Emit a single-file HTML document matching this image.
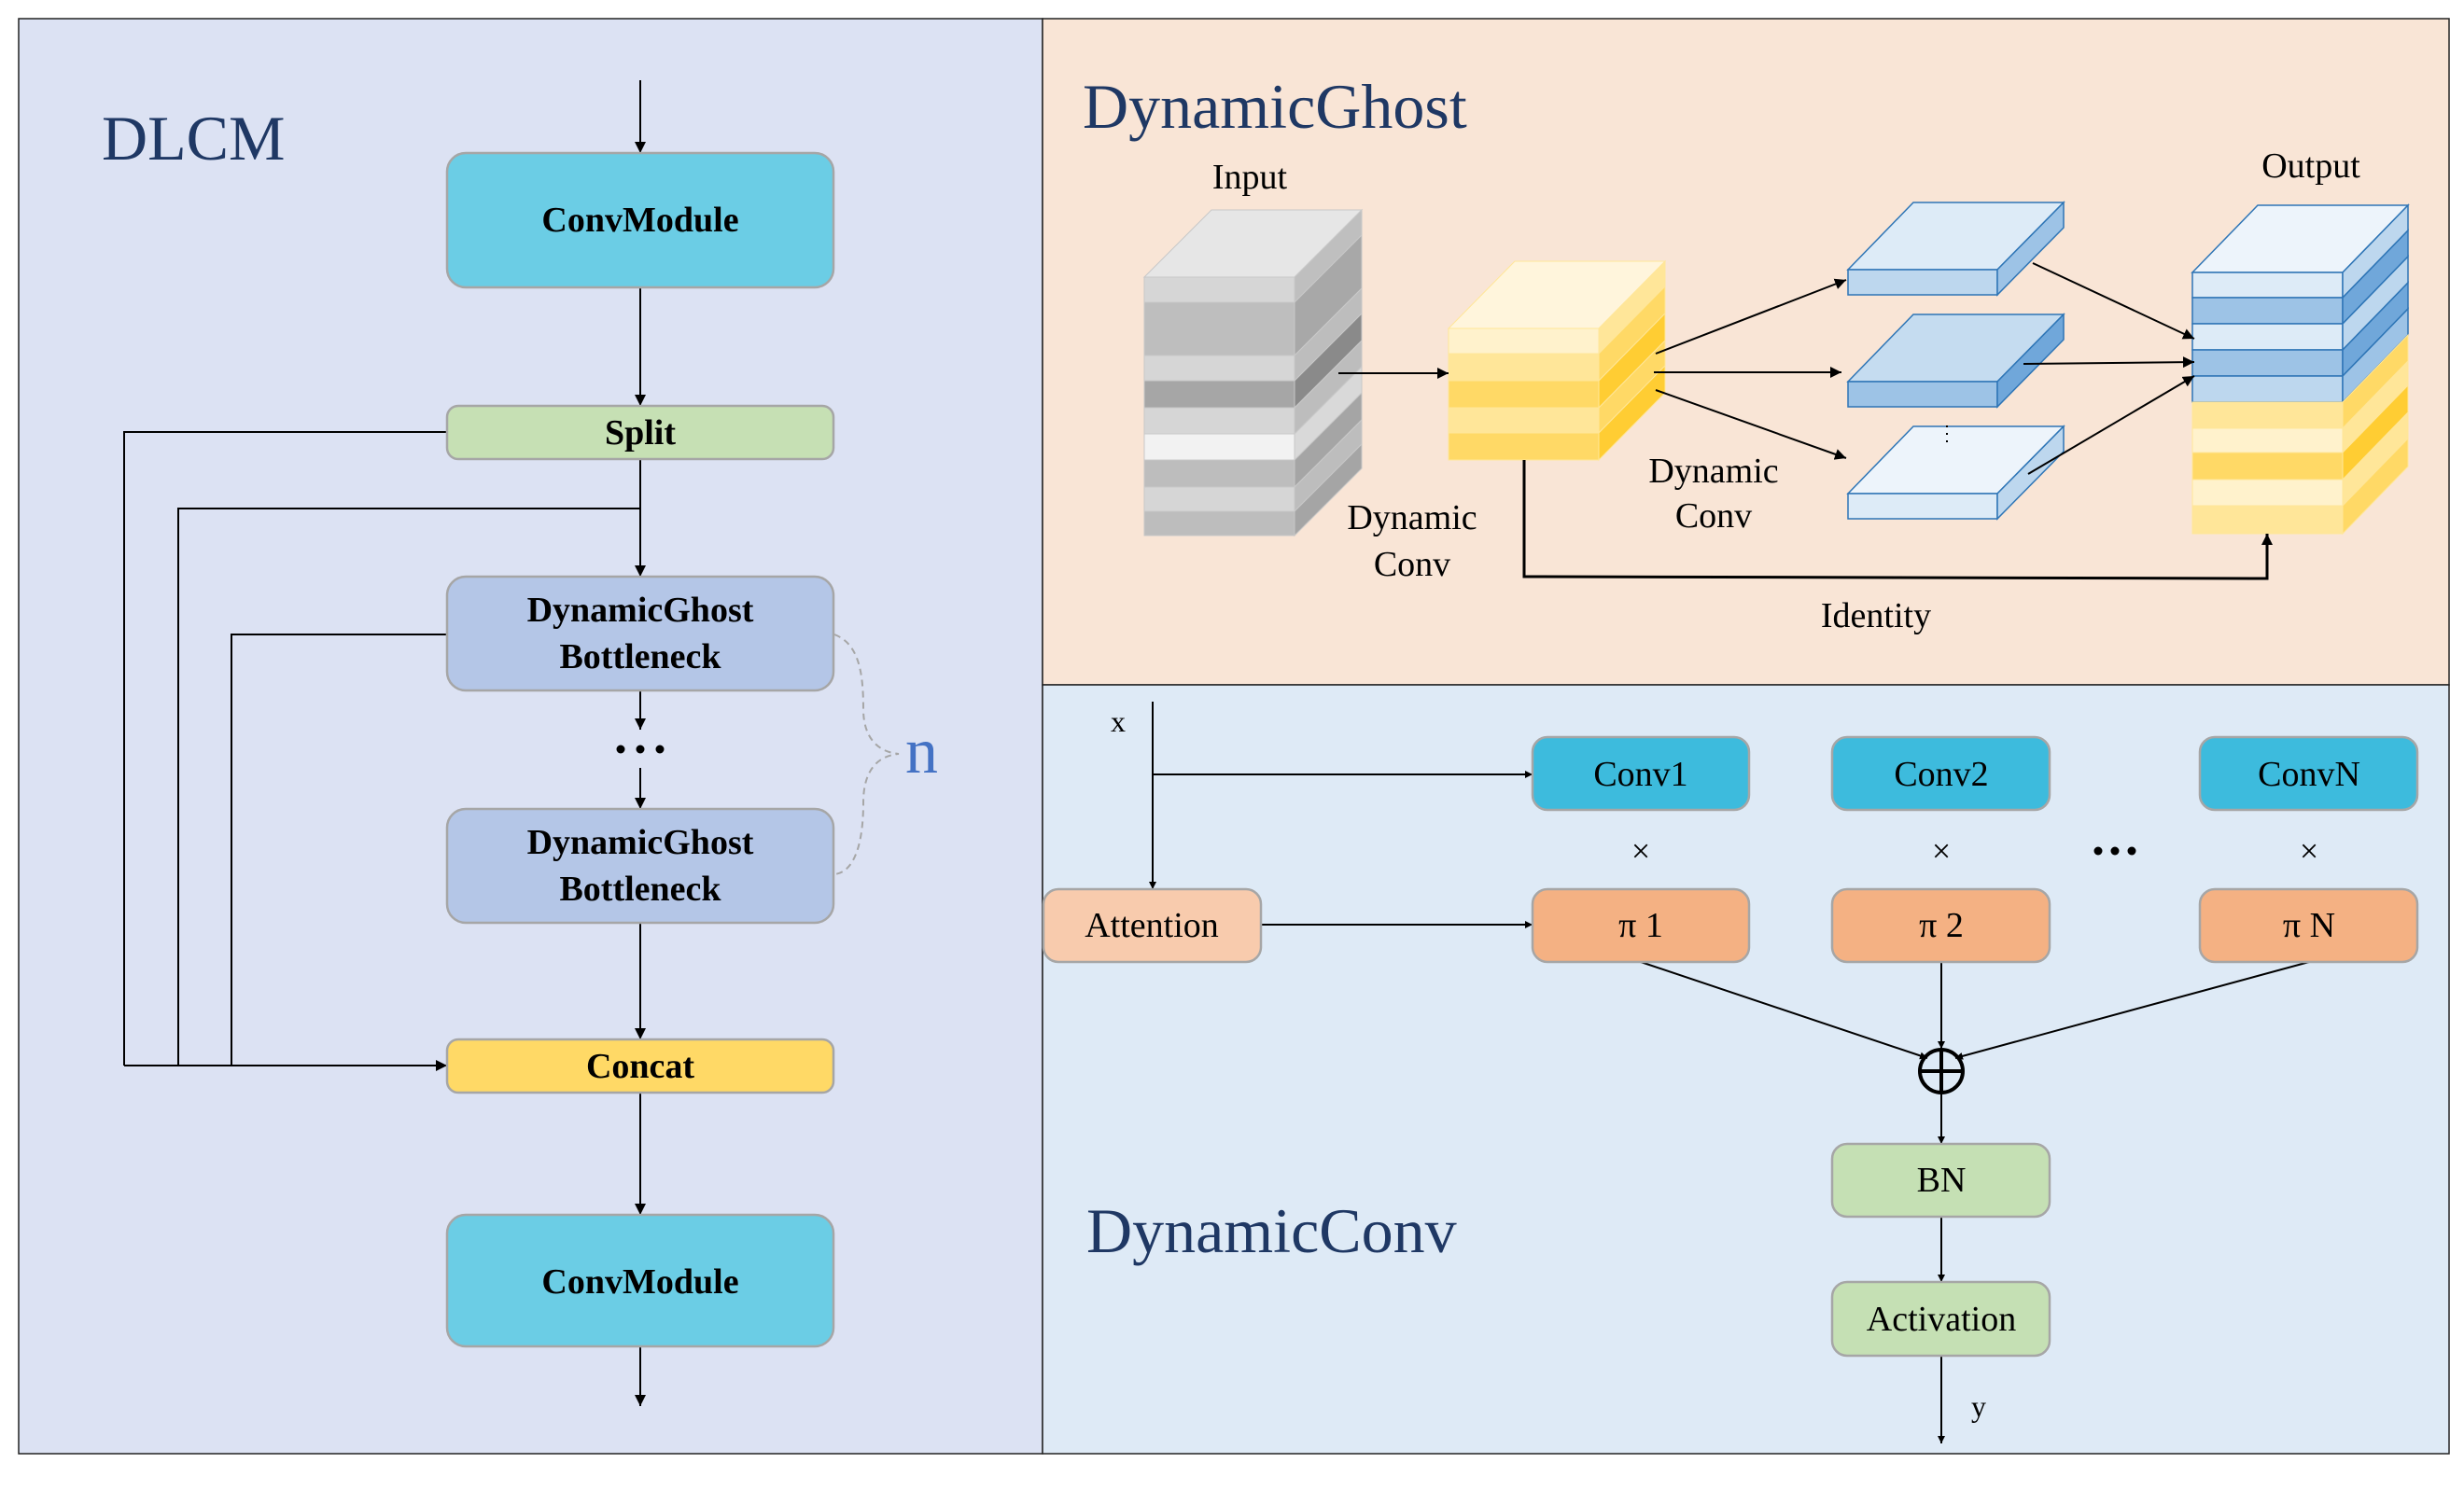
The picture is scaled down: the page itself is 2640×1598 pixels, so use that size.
<!DOCTYPE html>
<html><head><meta charset="utf-8"><style>html,body{margin:0;padding:0;background:#fff}svg{display:block}text{font-family:"Liberation Serif",serif}</style></head><body>
<svg width="2640" height="1598" viewBox="0 0 2640 1598" xmlns="http://www.w3.org/2000/svg">
<defs>
<marker id="a" viewBox="0 0 10 10" refX="10" refY="5" markerWidth="8" markerHeight="8" markerUnits="userSpaceOnUse" orient="auto"><path d="M0,0L10,5L0,10z" fill="#000"/></marker>
<marker id="b" viewBox="0 0 10 10" refX="10" refY="5" markerWidth="12" markerHeight="12" markerUnits="userSpaceOnUse" orient="auto"><path d="M0,0L10,5L0,10z" fill="#000"/></marker>
</defs>
<rect x="0" y="0" width="2640" height="1598" fill="#fff"/>
<rect x="20" y="20" width="1097" height="1538" fill="#DCE2F3" stroke="#222" stroke-width="1.5"/>
<rect x="1117" y="20" width="1507" height="714" fill="#F9E5D6" stroke="#222" stroke-width="1.5"/>
<rect x="1117" y="734" width="1507" height="824" fill="#DEEAF6" stroke="#222" stroke-width="1.5"/>

<!-- LEFT PANEL -->
<text x="109" y="171" font-size="68" fill="#1F3864">DLCM</text>
<g stroke="#000" stroke-width="2" fill="none">
<line x1="686" y1="86" x2="686" y2="164" marker-end="url(#b)"/>
<line x1="686" y1="308" x2="686" y2="435" marker-end="url(#b)"/>
<line x1="686" y1="492" x2="686" y2="618" marker-end="url(#b)"/>
<line x1="686" y1="740" x2="686" y2="782" marker-end="url(#b)"/>
<line x1="686" y1="823" x2="686" y2="867" marker-end="url(#b)"/>
<line x1="686" y1="989" x2="686" y2="1114" marker-end="url(#b)"/>
<line x1="686" y1="1171" x2="686" y2="1302" marker-end="url(#b)"/>
<line x1="686" y1="1443" x2="686" y2="1507" marker-end="url(#b)"/>
<polyline points="479,463 133,463 133,1142"/>
<polyline points="686,545 191,545 191,1142"/>
<polyline points="479,680 248,680 248,1142"/>
<line x1="133" y1="1142" x2="479" y2="1142" marker-end="url(#b)"/>
</g>
<g stroke="#A6A6A6" stroke-width="2.5">
<rect x="479" y="164" width="414" height="144" rx="20" fill="#6BCDE5"/>
<rect x="479" y="435" width="414" height="57" rx="12" fill="#C6E0B4"/>
<rect x="479" y="618" width="414" height="122" rx="20" fill="#B4C6E7"/>
<rect x="479" y="867" width="414" height="122" rx="20" fill="#B4C6E7"/>
<rect x="479" y="1114" width="414" height="57" rx="12" fill="#FFD966"/>
<rect x="479" y="1302" width="414" height="141" rx="20" fill="#6BCDE5"/>
</g>
<g font-weight="bold" font-size="38" text-anchor="middle" fill="#000">
<text x="686" y="248">ConvModule</text>
<text x="686" y="476">Split</text>
<text x="686" y="666">DynamicGhost</text>
<text x="686" y="716">Bottleneck</text>
<text x="686" y="915">DynamicGhost</text>
<text x="686" y="965">Bottleneck</text>
<text x="686" y="1155">Concat</text>
<text x="686" y="1386">ConvModule</text>
</g>
<circle cx="665" cy="803" r="4.5"/><circle cx="686" cy="803" r="4.5"/><circle cx="707" cy="803" r="4.5"/>
<path d="M894,680 C920,690 925,720 925,760 C925,790 940,806 963,808 C940,810 925,826 925,860 C925,905 915,935 894,937" fill="none" stroke="#A6A6A6" stroke-width="2" stroke-dasharray="7,5"/>
<text x="970" y="828" font-size="70" fill="#4472C4">n</text>

<!-- TOP RIGHT: DynamicGhost -->
<text x="1160" y="137" font-size="68" fill="#1F3864">DynamicGhost</text>
<g font-size="38" text-anchor="middle" fill="#000">
<text x="1339" y="202">Input</text>
<text x="2476" y="190">Output</text>
<text x="1513" y="567">Dynamic</text>
<text x="1513" y="617">Conv</text>
<text x="1836" y="517">Dynamic</text>
<text x="1836" y="565">Conv</text>
<text x="2010" y="672">Identity</text>
</g>
<!-- gray cube -->
<g stroke="#c8c8c8" stroke-width="1">
<polygon points="1226,297 1298,225 1459,225 1387,297" fill="#E6E6E6"/>
<rect x="1226" y="297" width="161" height="27" fill="#D6D6D6"/><polygon points="1387,297 1459,225 1459,252 1387,324" fill="#BFBFBF"/>
<rect x="1226" y="324" width="161" height="57" fill="#BEBEBE"/><polygon points="1387,324 1459,252 1459,309 1387,381" fill="#A8A8A8"/>
<rect x="1226" y="381" width="161" height="27" fill="#D6D6D6"/><polygon points="1387,381 1459,309 1459,336 1387,408" fill="#BDBDBD"/>
<rect x="1226" y="408" width="161" height="29" fill="#A6A6A6"/><polygon points="1387,408 1459,336 1459,365 1387,437" fill="#8A8A8A"/>
<rect x="1226" y="437" width="161" height="28" fill="#D6D6D6"/><polygon points="1387,437 1459,365 1459,393 1387,465" fill="#BDBDBD"/>
<rect x="1226" y="465" width="161" height="28" fill="#F2F2F2"/><polygon points="1387,465 1459,393 1459,421 1387,493" fill="#D9D9D9"/>
<rect x="1226" y="493" width="161" height="29" fill="#BDBDBD"/><polygon points="1387,493 1459,421 1459,450 1387,522" fill="#A5A5A5"/>
<rect x="1226" y="522" width="161" height="26" fill="#D6D6D6"/><polygon points="1387,522 1459,450 1459,476 1387,548" fill="#BDBDBD"/>
<rect x="1226" y="548" width="161" height="26" fill="#BDBDBD"/><polygon points="1387,548 1459,476 1459,502 1387,574" fill="#A5A5A5"/>
</g>
<!-- yellow cube -->
<g stroke="#FFE699" stroke-width="1" transform="translate(-5,0)">
<polygon points="1557,352 1628,280 1789,280 1718,352" fill="#FFF5DC"/>
<rect x="1557" y="352" width="161" height="27" fill="#FFF2CC"/><polygon points="1718,352 1789,280 1789,307 1718,379" fill="#FFE699"/>
<rect x="1557" y="379" width="161" height="29" fill="#FFE699"/><polygon points="1718,379 1789,307 1789,336 1718,408" fill="#FFD966"/>
<rect x="1557" y="408" width="161" height="29" fill="#FFD966"/><polygon points="1718,408 1789,336 1789,365 1718,437" fill="#FFCD33"/>
<rect x="1557" y="437" width="161" height="27" fill="#FFE699"/><polygon points="1718,437 1789,365 1789,392 1718,464" fill="#FFD966"/>
<rect x="1557" y="464" width="161" height="29" fill="#FFD966"/><polygon points="1718,464 1789,392 1789,421 1718,493" fill="#FFCD33"/>
</g>
<!-- slabs -->
<g stroke="#2E75B6" stroke-width="1.5" transform="translate(-7,0)">
<polygon points="1987,289 2057,217 2218,217 2147,289" fill="#DDEBF7"/>
<rect x="1987" y="289" width="160" height="27" fill="#BDD7EE"/>
<polygon points="2147,289 2218,217 2218,244 2147,316" fill="#9DC3E6"/>
<polygon points="1987,409 2057,337 2218,337 2147,409" fill="#C5DCF0"/>
<rect x="1987" y="409" width="160" height="27" fill="#9DC3E6"/>
<polygon points="2147,409 2218,337 2218,364 2147,436" fill="#70A7DA"/>
<polygon points="1987,529 2057,457 2218,457 2147,529" fill="#EDF4FB"/>
<rect x="1987" y="529" width="160" height="27" fill="#DDEBF7"/>
<polygon points="2147,529 2218,457 2218,484 2147,556" fill="#BDD7EE"/>
</g>
<line x1="2086" y1="456" x2="2086" y2="480" stroke="#000" stroke-width="2" stroke-dasharray="2,6"/>
<!-- output cube -->
<g stroke-width="1.5" transform="translate(-8,0)">
<polygon points="2357,292 2427,220 2588,220 2518,292" fill="#EDF4FB" stroke="#2E75B6"/>
<g stroke="#2E75B6">
<rect x="2357" y="292" width="161" height="27" fill="#DDEBF7"/><polygon points="2518,292 2588,220 2588,247 2518,319" fill="#BDD7EE"/>
<rect x="2357" y="319" width="161" height="28" fill="#9DC3E6"/><polygon points="2518,319 2588,247 2588,275 2518,347" fill="#70A7DA"/>
<rect x="2357" y="347" width="161" height="28" fill="#DDEBF7"/><polygon points="2518,347 2588,275 2588,303 2518,375" fill="#BDD7EE"/>
<rect x="2357" y="375" width="161" height="28" fill="#9DC3E6"/><polygon points="2518,375 2588,303 2588,331 2518,403" fill="#70A7DA"/>
<rect x="2357" y="403" width="161" height="28" fill="#BDD7EE"/><polygon points="2518,403 2588,331 2588,359 2518,431" fill="#9DC3E6"/>
</g>
<g stroke="#FFE699" stroke-width="1">
<rect x="2357" y="431" width="161" height="28" fill="#FFE699"/><polygon points="2518,431 2588,359 2588,387 2518,459" fill="#FFD966"/>
<rect x="2357" y="459" width="161" height="26" fill="#FFF2CC"/><polygon points="2518,459 2588,387 2588,413 2518,485" fill="#FFE699"/>
<rect x="2357" y="485" width="161" height="29" fill="#FFD966"/><polygon points="2518,485 2588,413 2588,442 2518,514" fill="#FFCD33"/>
<rect x="2357" y="514" width="161" height="28" fill="#FFF2CC"/><polygon points="2518,514 2588,442 2588,470 2518,542" fill="#FFE699"/>
<rect x="2357" y="542" width="161" height="30" fill="#FFE699"/><polygon points="2518,542 2588,470 2588,500 2518,572" fill="#FFD966"/>
</g>
</g>
<g stroke="#000" stroke-width="2" fill="none">
<line x1="1434" y1="400" x2="1552" y2="400" marker-end="url(#b)"/>
<line x1="1774" y1="379" x2="1978" y2="300" marker-end="url(#b)"/>
<line x1="1772" y1="399" x2="1973" y2="399" marker-end="url(#b)"/>
<line x1="1774" y1="418" x2="1978" y2="491" marker-end="url(#b)"/>
<line x1="2178" y1="282" x2="2351" y2="363" marker-end="url(#b)"/>
<line x1="2168" y1="390" x2="2351" y2="388" marker-end="url(#b)"/>
<line x1="2173" y1="508" x2="2351" y2="403" marker-end="url(#b)"/>
<polyline points="1633,493 1633,618 2429,620 2429,572" stroke-width="3" marker-end="url(#b)"/>
</g>

<!-- BOTTOM RIGHT: DynamicConv -->
<text x="1164" y="1342" font-size="68" fill="#1F3864">DynamicConv</text>
<g stroke="#000" stroke-width="2" fill="none">
<line x1="1235" y1="752" x2="1235" y2="953" marker-end="url(#a)"/>
<line x1="1235" y1="830" x2="1642" y2="830" marker-end="url(#a)"/>
<line x1="1351" y1="991" x2="1642" y2="991" marker-end="url(#a)"/>
<line x1="1758" y1="1031" x2="2065" y2="1134" marker-end="url(#a)"/>
<line x1="2080" y1="1031" x2="2080" y2="1124" marker-end="url(#a)"/>
<line x1="2474" y1="1031" x2="2095" y2="1134" marker-end="url(#a)"/>
<line x1="2080" y1="1172" x2="2080" y2="1226" marker-end="url(#a)"/>
<line x1="2080" y1="1304" x2="2080" y2="1374" marker-end="url(#a)"/>
<line x1="2080" y1="1453" x2="2080" y2="1547" marker-end="url(#a)"/>
<circle cx="2080" cy="1148" r="23" stroke-width="4"/>
<line x1="2057" y1="1148" x2="2103" y2="1148" stroke-width="4"/>
<line x1="2080" y1="1125" x2="2080" y2="1171" stroke-width="4"/>
</g>
<g stroke="#A6A6A6" stroke-width="2.5">
<rect x="1642" y="790" width="232" height="78" rx="16" fill="#3DBBDD"/>
<rect x="1963" y="790" width="233" height="78" rx="16" fill="#3DBBDD"/>
<rect x="2357" y="790" width="233" height="78" rx="16" fill="#3DBBDD"/>
<rect x="1118" y="953" width="233" height="78" rx="16" fill="#F8CBAD"/>
<rect x="1642" y="953" width="232" height="78" rx="16" fill="#F4B183"/>
<rect x="1963" y="953" width="233" height="78" rx="16" fill="#F4B183"/>
<rect x="2357" y="953" width="233" height="78" rx="16" fill="#F4B183"/>
<rect x="1963" y="1226" width="233" height="78" rx="16" fill="#C5E0B4"/>
<rect x="1963" y="1374" width="233" height="79" rx="16" fill="#C5E0B4"/>
</g>
<g font-size="38" text-anchor="middle" fill="#000">
<text x="1758" y="842">Conv1</text>
<text x="2080" y="842">Conv2</text>
<text x="2474" y="842">ConvN</text>
<text x="1234" y="1004">Attention</text>
<text x="1758" y="1004">π 1</text>
<text x="2080" y="1004">π 2</text>
<text x="2474" y="1004">π N</text>
<text x="2080" y="1277">BN</text>
<text x="2080" y="1426">Activation</text>
<text x="1758" y="924" font-size="36">×</text>
<text x="2080" y="924" font-size="36">×</text>
<text x="2474" y="924" font-size="36">×</text>
</g>
<g font-family="Liberation Sans" font-size="32" fill="#000">
<text x="1190" y="784">x</text>
<text x="2112" y="1518">y</text>
</g>
<circle cx="2248" cy="912" r="4.5"/><circle cx="2266" cy="912" r="4.5"/><circle cx="2284" cy="912" r="4.5"/>
</svg>
</body></html>
